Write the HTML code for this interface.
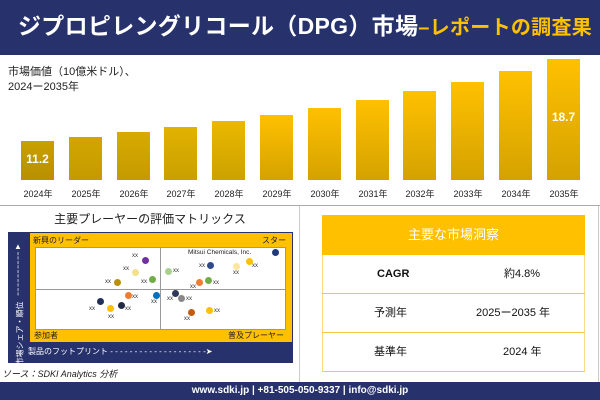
<!DOCTYPE html>
<html><head><meta charset="utf-8"><style>
*{margin:0;padding:0;box-sizing:border-box}
body{width:600px;height:400px;position:relative;background:#fff;font-family:"Liberation Sans","Noto Sans CJK JP",sans-serif;overflow:hidden}
.a{position:absolute}
.bar{position:absolute;width:33px;bottom:220px;background:linear-gradient(#ffc000,#d4a200)}
.yl{position:absolute;top:187px;font-size:9px;color:#222;width:48px;text-align:center}
.xx{position:absolute;font-size:6px;color:#333}
.d{position:absolute;width:7px;height:7px;border-radius:50%}
.row{position:absolute;left:322px;width:263px;height:39px;border-bottom:1.5px solid #f5c842;font-size:11px;color:#111}
.row span{position:absolute;top:0;line-height:38px}
</style></head><body>
<div class="a" style="left:0;top:0;width:600px;height:55px;background:#27316b"></div>
<div class="a" style="left:18px;top:11px;font-size:23px;line-height:30px;color:#fff;font-weight:bold;white-space:nowrap;letter-spacing:0.3px">ジプロピレングリコール（DPG）市場<span style="color:#ffc000;font-size:20px">–レポートの調査果</span></div>
<div class="a" style="left:8px;top:65px;font-size:11px;color:#222;line-height:15px">市場価値（10億米ドル）、<br>2024ー2035年</div>
<div class="bar" style="left:21px;top:141px;background:linear-gradient(#c9a000,#b88f00)"></div>
<div class="bar" style="left:69px;top:137px;background:linear-gradient(#d2a600,#c49a00)"></div>
<div class="bar" style="left:117px;top:132px;background:linear-gradient(#d8aa00,#c49a00)"></div>
<div class="bar" style="left:164px;top:127px;background:linear-gradient(#e2b200,#c9a000)"></div>
<div class="bar" style="left:212px;top:121px;background:linear-gradient(#eab800,#cda200)"></div>
<div class="bar" style="left:260px;top:115px"></div>
<div class="bar" style="left:308px;top:108px"></div>
<div class="bar" style="left:356px;top:100px"></div>
<div class="bar" style="left:403px;top:91px"></div>
<div class="bar" style="left:451px;top:82px"></div>
<div class="bar" style="left:499px;top:71px"></div>
<div class="bar" style="left:547px;top:59px"></div>
<div class="a" style="left:21px;top:152px;width:33px;text-align:center;color:#fff;font-weight:bold;font-size:12px">11.2</div>
<div class="a" style="left:547px;top:110px;width:33px;text-align:center;color:#fff;font-weight:bold;font-size:12px">18.7</div>
<div class="yl" style="left:14px">2024年</div><div class="yl" style="left:62px">2025年</div><div class="yl" style="left:110px">2026年</div><div class="yl" style="left:157px">2027年</div><div class="yl" style="left:205px">2028年</div><div class="yl" style="left:253px">2029年</div><div class="yl" style="left:301px">2030年</div><div class="yl" style="left:349px">2031年</div><div class="yl" style="left:396px">2032年</div><div class="yl" style="left:444px">2033年</div><div class="yl" style="left:492px">2034年</div><div class="yl" style="left:540px">2035年</div>
<div class="a" style="left:0;top:205px;width:600px;height:1px;background:#aaa"></div>
<div class="a" style="left:0;top:210px;width:300px;text-align:center;font-size:12px;color:#222">主要プレーヤーの評価マトリックス</div>
<div class="a" style="left:8px;top:232px;width:285px;height:131px;background:#27316b"></div>
<div class="a" style="left:30px;top:233px;width:262px;height:109px;background:#ffc000"></div>
<div class="a" style="left:35px;top:247px;width:251px;height:83px;background:#fff;border:1px solid #999"></div>
<div class="a" style="left:160px;top:247px;width:1px;height:83px;background:#999"></div>
<div class="a" style="left:35px;top:289px;width:251px;height:1px;background:#999"></div>
<div class="a" style="left:33px;top:235px;font-size:8px;color:#222">新興のリーダー</div>
<div class="a" style="left:262px;top:235px;font-size:8px;color:#222">スター</div>
<div class="a" style="left:34px;top:330px;font-size:8px;color:#222">参加者</div>
<div class="a" style="left:228px;top:330px;font-size:8px;color:#222">普及プレーヤー</div>
<div class="a" style="left:188px;top:249px;font-size:6.5px;color:#222">Mitsui Chemicals, Inc.</div>
<div class="a" style="left:28px;top:346px;font-size:8px;color:#fff;white-space:nowrap">製品のフットプリント - - - - - - - - - - - - - - - - - - - -➤</div>
<div class="a" style="left:12px;top:242px;width:12px;font-size:8px;color:#fff;line-height:9px;text-align:center">▲<br>¦<br>¦<br>¦<br>¦<br>¦</div>
<div class="a" style="left:-20px;top:320px;width:80px;font-size:8px;color:#fff;transform:rotate(-90deg);white-space:nowrap">市場シェア・順位</div>
<div class="d" style="left:142px;top:257px;background:#7030a0"></div>
<div class="d" style="left:132px;top:269px;background:#f3e08a"></div>
<div class="d" style="left:114px;top:279px;background:#b8900a"></div>
<div class="d" style="left:149px;top:276px;background:#70ad47"></div>
<div class="d" style="left:165px;top:268px;background:#a9d08e"></div>
<div class="d" style="left:207px;top:262px;background:#2f4a8a"></div>
<div class="d" style="left:233px;top:263px;background:#fbe5a0"></div>
<div class="d" style="left:246px;top:258px;background:#ffc000"></div>
<div class="d" style="left:272px;top:249px;background:#1f3a7a"></div>
<div class="d" style="left:196px;top:279px;background:#ed7d31"></div>
<div class="d" style="left:205px;top:277px;background:#70ad47"></div>
<div class="d" style="left:125px;top:292px;background:#ed7d31"></div>
<div class="d" style="left:153px;top:292px;background:#0070c0"></div>
<div class="d" style="left:97px;top:298px;background:#1f2f5a"></div>
<div class="d" style="left:107px;top:305px;background:#ffc000"></div>
<div class="d" style="left:118px;top:302px;background:#222a44"></div>
<div class="d" style="left:172px;top:290px;background:#2f3a5a"></div>
<div class="d" style="left:178px;top:295px;background:#888"></div>
<div class="d" style="left:188px;top:309px;background:#c55a11"></div>
<div class="d" style="left:206px;top:307px;background:#ffc000"></div>
<div class="xx" style="left:132px;top:253px">xx</div><div class="xx" style="left:123px;top:266px">xx</div><div class="xx" style="left:105px;top:279px">xx</div><div class="xx" style="left:141px;top:279px">xx</div><div class="xx" style="left:173px;top:268px">xx</div><div class="xx" style="left:199px;top:263px">xx</div><div class="xx" style="left:233px;top:270px">xx</div><div class="xx" style="left:252px;top:263px">xx</div><div class="xx" style="left:190px;top:284px">xx</div><div class="xx" style="left:213px;top:280px">xx</div><div class="xx" style="left:132px;top:294px">xx</div><div class="xx" style="left:151px;top:299px">xx</div><div class="xx" style="left:89px;top:306px">xx</div><div class="xx" style="left:108px;top:314px">xx</div><div class="xx" style="left:125px;top:306px">xx</div><div class="xx" style="left:167px;top:296px">xx</div><div class="xx" style="left:186px;top:296px">xx</div><div class="xx" style="left:184px;top:316px">xx</div><div class="xx" style="left:214px;top:308px">xx</div>
<div class="a" style="left:2px;top:367px;font-size:9px;font-style:italic;color:#222">ソース：SDKI Analytics 分析</div>
<div class="a" style="left:299px;top:206px;width:1px;height:176px;background:#ccc"></div>
<div class="a" style="left:598px;top:206px;width:1px;height:176px;background:#ccc"></div>
<div class="a" style="left:322px;top:215px;width:263px;height:40px;background:#ffc000;color:#fff;font-size:13px;text-align:center;line-height:40px">主要な市場洞察</div>
<div class="a" style="left:322px;top:255px;width:263px;height:117px;border:1px solid #f8dc8a;border-top:none"></div>
<div class="row" style="top:255px"><span style="left:55px;font-weight:bold">CAGR</span><span style="left:182px">約4.8%</span></div>
<div class="row" style="top:294px"><span style="left:52px">予測年</span><span style="left:154px">2025ー2035 年</span></div>
<div class="row" style="top:333px"><span style="left:52px">基準年</span><span style="left:181px">2024 年</span></div>
<div class="a" style="left:0;top:382px;width:600px;height:18px;background:#27316b;color:#fff;font-size:10px;font-weight:bold;text-align:center;line-height:18px">www.sdki.jp | +81-505-050-9337 | info@sdki.jp</div>
</body></html>
